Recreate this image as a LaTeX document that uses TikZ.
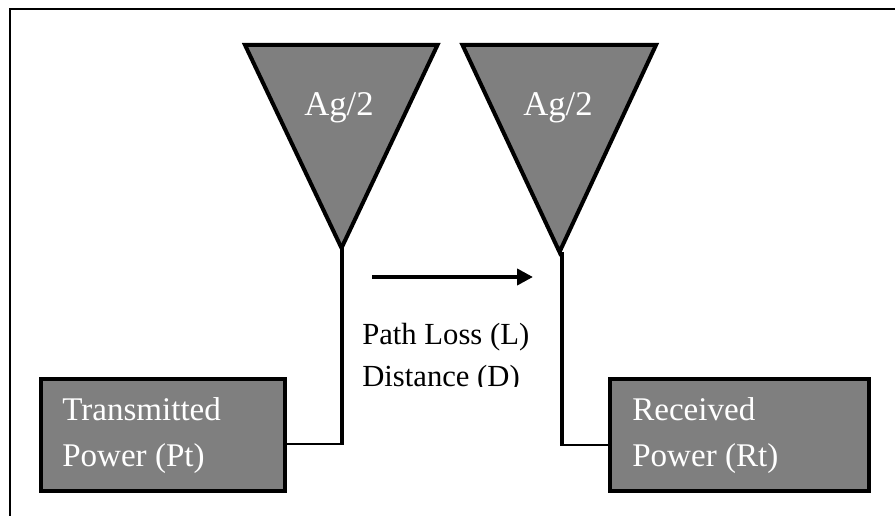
\documentclass[tikz,border=0pt]{standalone}
\usepackage{fontspec}
\setmainfont{Liberation Serif}
\usetikzlibrary{arrows.meta,calc}
\definecolor{boxgrey}{HTML}{7F7F7F}
\tikzset{
  x=0.75pt,y=-0.75pt,
  frameline/.style={draw=black,line width=1.5pt},
  antenna/.style={draw=black,fill=boxgrey,line width=3pt,miter limit=10},
  powerbox/.style={draw=black,fill=boxgrey,line width=3pt,inner sep=0pt,outer sep=0pt,anchor=north west,minimum height=83.5pt},
  mast/.style={draw=black,line width=3pt},
  feed/.style={draw=black,line width=2pt},
  flow/.style={draw=black,line width=3pt,-{Triangle[length=12pt,width=12pt]}},
  powertext/.style={text=white,font=\fontsize{24.8}{34.5}\selectfont,anchor=north west,inner sep=0pt,align=left},
  gaintext/.style={text=white,font=\fontsize{26}{30}\selectfont,anchor=base,inner sep=0pt},
  losstext/.style={text=black,font=\fontsize{23}{32}\selectfont,anchor=north west,inner sep=0pt,align=left},
}
\begin{document}
\begin{tikzpicture}
\useasboundingbox (0,0) rectangle (895,516);
\coordinate (fa) at (10,9.5);
\coordinate (fb) at (895,516);
\draw[frameline] (fa |- fb) -- (fa) -- (fa -| fb);
% connectors' named points
\coordinate (t1) at (342.3,248);
\coordinate (t2) at (562,252);
\coordinate (j1) at (342.3,444);
\coordinate (j2) at (562,445);
% power boxes
\node[powerbox,minimum width=182.8pt] (tx) at (41.3,379.3) {};
\node[powerbox,minimum width=193.8pt] (rx) at (610.3,379.3) {};
% antennas
\draw[antenna] (245,45) -- (437.5,45) -- (341.5,248) -- cycle;
\draw[antenna] (462.5,45) -- (656,45) -- (559.5,252) -- cycle;
% connectors
\draw[mast] (t1) -- (j1);
\draw[feed] (tx.east |- j1) -- ($(j1)+(2,0)$);
\draw[mast] (t2) -- (j2);
\draw[feed] (rx.west |- j2) -- ($(j2)+(-2,0)$);
\coordinate (af) at (372,277);
\coordinate (at) at (533,277);
\draw[flow] (af) -- (at);
% texts
\node[gaintext] (g1) at (339,116) {Ag/2};
\node[gaintext] (g2) at (558,116) {Ag/2};
\node[powertext] (txt1) at (62,397.5) {Transmitted\\Power (Pt)};
\node[powertext] (txt2) at (632,397.5) {Received\\Power (Rt)};
\begin{scope}
\clip (355,300) rectangle (560,386.5);
\node[losstext] (loss) at (362,322.5) {Path Loss (L)\\Distance (D)};
\end{scope}
\end{tikzpicture}
\end{document}
